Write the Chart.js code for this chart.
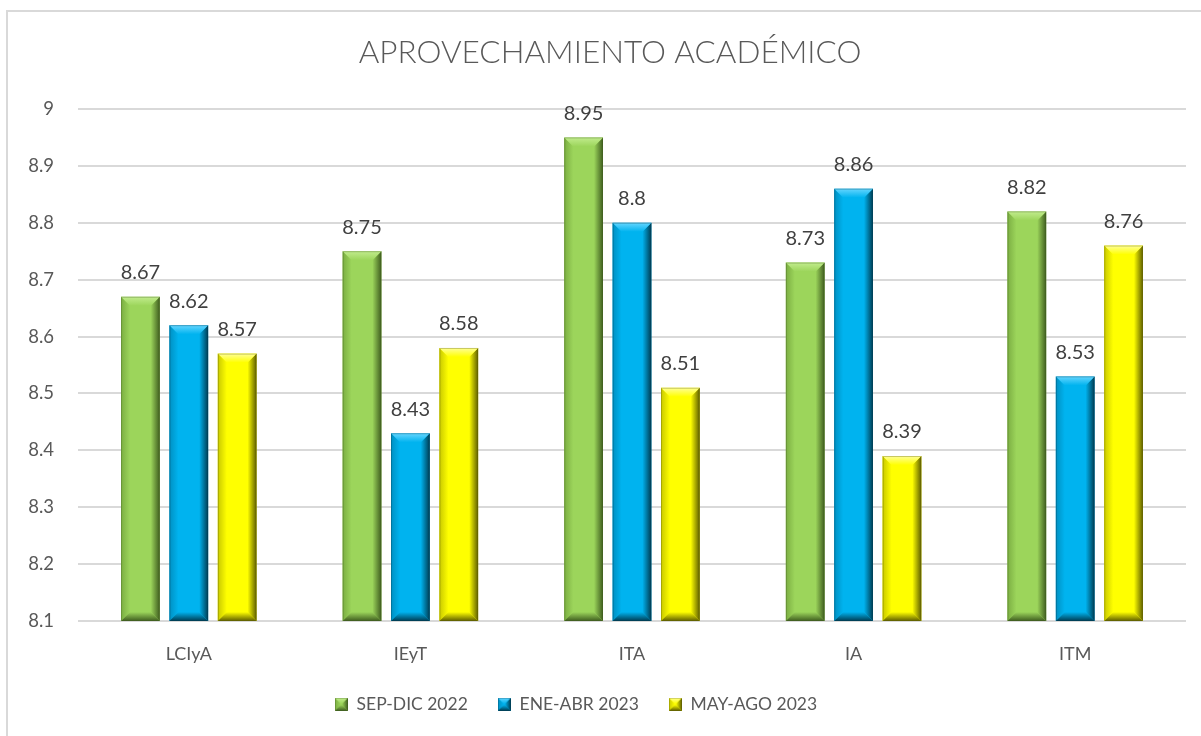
<!DOCTYPE html>
<html><head><meta charset="utf-8">
<script src="https://cdn.jsdelivr.net/npm/chart.js@4.4.0/dist/chart.umd.min.js"></script>
<style>html,body{margin:0;padding:0;background:#fff;overflow:hidden}canvas{display:block}</style>
</head><body><canvas id="c" width="1201" height="736"></canvas>
<script>
// ---- data ----
const categories = ['LCIyA', 'IEyT', 'ITA', 'IA', 'ITM'];
const sepDic2022 = [8.67, 8.75, 8.95, 8.73, 8.82];
const eneAbr2023 = [8.62, 8.43, 8.80, 8.86, 8.53];
const mayAgo2023 = [8.57, 8.58, 8.51, 8.39, 8.76];
const seriesNames = ['SEP-DIC 2022', 'ENE-ABR 2023', 'MAY-AGO 2023'];
const yMin = 8.1, yMax = 9, yStep = 0.1;
const titleText = 'APROVECHAMIENTO ACADÉMICO';

// ---- styles ----
const FONT = 'Lato, "Liberation Sans", sans-serif';
const palettes = [
  {base:'#9CD55B', light:'#C2EC8E', dark:'#3F5D1F', edge:'#7BAE42'},
  {base:'#00B3EF', light:'#66D6FF', dark:'#003C52', edge:'#0090C2'},
  {base:'#FFFF00', light:'#FFFF99', dark:'#5E5E00', edge:'#C9C900'}
];

function bevelRect(ctx, L, T, R, B, b, p) {
  ctx.save();
  let g = ctx.createLinearGradient(L, 0, L + b, 0);
  g.addColorStop(0, p.edge); g.addColorStop(1, p.base);
  ctx.fillStyle = g;
  ctx.beginPath(); ctx.moveTo(L, T); ctx.lineTo(L + b, T + b); ctx.lineTo(L + b, B - b); ctx.lineTo(L, B); ctx.closePath(); ctx.fill();
  g = ctx.createLinearGradient(R - b, 0, R, 0);
  g.addColorStop(0, p.base); g.addColorStop(1, p.dark);
  ctx.fillStyle = g;
  ctx.beginPath(); ctx.moveTo(R, T); ctx.lineTo(R, B); ctx.lineTo(R - b, B - b); ctx.lineTo(R - b, T + b); ctx.closePath(); ctx.fill();
  g = ctx.createLinearGradient(0, T, 0, T + b);
  g.addColorStop(0, p.light); g.addColorStop(1, p.base);
  ctx.fillStyle = g;
  ctx.beginPath(); ctx.moveTo(L, T); ctx.lineTo(R, T); ctx.lineTo(R - b, T + b); ctx.lineTo(L + b, T + b); ctx.closePath(); ctx.fill();
  g = ctx.createLinearGradient(0, B - b, 0, B);
  g.addColorStop(0, p.base); g.addColorStop(1, p.dark);
  ctx.fillStyle = g;
  ctx.beginPath(); ctx.moveTo(L, B); ctx.lineTo(R, B); ctx.lineTo(R - b, B - b); ctx.lineTo(L + b, B - b); ctx.closePath(); ctx.fill();
  ctx.strokeStyle = p.dark; ctx.globalAlpha = 0.35; ctx.lineWidth = 1;
  ctx.strokeRect(L + 0.5, T + 0.5, R - L - 1, B - T - 1);
  ctx.restore();
}

function legendIcon(p) {
  const c = document.createElement('canvas');
  c.width = 13; c.height = 13;
  const ctx = c.getContext('2d');
  ctx.fillStyle = p.base; ctx.fillRect(0, 0, 13, 13);
  bevelRect(ctx, 0, 0, 13, 13, 6, p);
  return c;
}

const bevelPlugin = {
  id: 'bevel',
  afterDatasetsDraw(chart) {
    const ctx = chart.ctx;
    const area = chart.chartArea;
    chart.data.datasets.forEach((ds, i) => {
      const meta = chart.getDatasetMeta(i);
      const p = palettes[i];
      meta.data.forEach((el, j) => {
        const {x, y, base, width} = el.getProps(['x', 'y', 'base', 'width'], true);
        const L = x - width / 2, R = x + width / 2;
        const T = Math.max(Math.min(y, base), area.top);
        const B = Math.min(Math.max(y, base), area.bottom);
        bevelRect(ctx, L, T, R, B, 9, p);
        ctx.save();
        ctx.fillStyle = '#404040';
        ctx.font = '20px ' + FONT;
        ctx.textAlign = 'center';
        ctx.textBaseline = 'middle';
        ctx.fillText(String(ds.data[j]), x, T - 24);
        ctx.restore();
      });
    });
  }
};

function shiftDraw(box, dx) {
  if (!box || box._shifted) return;
  const d = box.draw;
  box.draw = function (...args) {
    this.ctx.save(); this.ctx.translate(dx, 0);
    d.apply(this, args);
    this.ctx.restore();
  };
  box._shifted = true;
}

const framePlugin = {
  id: 'frame',
  beforeDraw(chart) {
    const ctx = chart.ctx;
    ctx.save();
    ctx.fillStyle = '#fff'; ctx.fillRect(0, 0, chart.width, chart.height);
    ctx.strokeStyle = '#D9D9D9'; ctx.lineWidth = 2;
    ctx.strokeRect(7, 11, 1400, 900);
    ctx.restore();
  },
  beforeLayout(chart) {
    const lg = chart.legend;
    if (lg && !lg._patched) {
      const f = lg.fit;
      lg.fit = function () { f.call(this); this.height = 70.5; };
      lg._patched = true;
    }
    shiftDraw(chart.legend, -17);
    shiftDraw(chart.titleBlock, 17);
  }
};

const seriesData = [sepDic2022, eneAbr2023, mayAgo2023];

new Chart(document.getElementById('c'), {
  type: 'bar',
  data: {
    labels: categories,
    datasets: seriesData.map((d, i) => ({
      label: seriesNames[i],
      data: d,
      backgroundColor: palettes[i].base,
      borderWidth: 0,
      barPercentage: 0.8,
      categoryPercentage: 0.655,
      pointStyle: legendIcon(palettes[i])
    }))
  },
  options: {
    responsive: false,
    animation: false,
    devicePixelRatio: 1,
    layout: {padding: {left: 0, right: 15, top: 0, bottom: 0}},
    plugins: {
      title: {
        display: true, text: titleText, color: '#595959',
        font: {family: FONT, size: 31.5, weight: '300'},
        padding: {top: 34, bottom: 37.2}
      },
      legend: {
        position: 'bottom',
        labels: {
          usePointStyle: true, boxWidth: 13, boxHeight: 13,
          color: '#595959', font: {family: FONT, size: 17.5}, padding: 30
        }
      },
      tooltip: {enabled: false}
    },
    scales: {
      x: {
        grid: {display: false},
        border: {display: false},
        ticks: {color: '#595959', font: {family: FONT, size: 18}, padding: 14},
        afterFit(s) { s.height = 44.5; }
      },
      y: {
        min: yMin, max: yMax,
        grid: {color: '#D9D9D9', lineWidth: 2, drawTicks: false},
        border: {display: false},
        ticks: {
          stepSize: yStep, color: '#595959', font: {family: FONT, size: 18.5}, padding: 24,
          callback: v => String(Math.round(v * 10) / 10)
        },
        afterFit(s) { s.width = 78; }
      }
    }
  },
  plugins: [framePlugin, bevelPlugin]
});
</script></body></html>
